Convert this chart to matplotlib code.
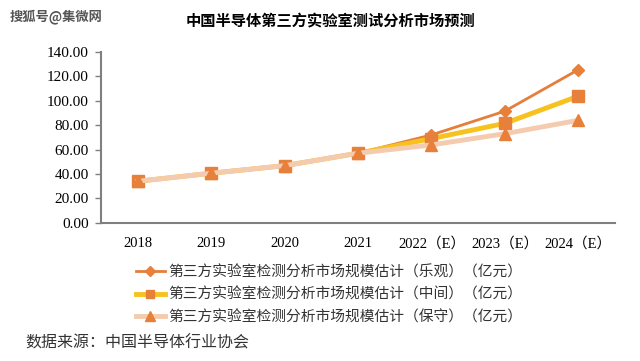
import matplotlib
matplotlib.use("Agg")
import matplotlib.pyplot as plt

plt.rcParams['font.family'] = ['Liberation Serif', 'Noto Sans CJK SC', 'DejaVu Sans']

categories = ["2018", "2019", "2020", "2021", "2022（E）", "2023（E）", "2024（E）"]
optimistic = [34.0, 40.6, 46.8, 57.0, 72.0, 91.5, 125.5]
middle = [34.0, 40.6, 46.8, 57.0, 69.0, 81.5, 103.8]
conservative = [34.0, 40.6, 46.8, 57.0, 63.8, 73.0, 84.0]
labels = [
    "第三方实验室检测分析市场规模估计（乐观）（亿元）",
    "第三方实验室检测分析市场规模估计（中间）（亿元）",
    "第三方实验室检测分析市场规模估计（保守）（亿元）",
]
yticks = [0, 20, 40, 60, 80, 100, 120, 140]

serif = ['Liberation Serif', 'Noto Sans CJK SC']

fig = plt.figure(figsize=(6.4, 3.61), dpi=100)
ax = fig.add_axes([0.158, 0.383, 0.803, 0.473])

x = list(range(len(categories)))
mk = '#E6803A'
l1, = ax.plot(x, optimistic, color='#E57E3A', lw=2.0, marker='D', ms=6.5,
              mfc=mk, mec=mk, label=labels[0], zorder=3)
l2, = ax.plot(x, middle, color='#F7C21E', lw=3.5, marker='s', ms=8.5,
              mfc=mk, mec=mk, label=labels[1], zorder=4)
l3, = ax.plot(x, conservative, color='#F4CBAE', lw=3.5, marker='^', ms=9,
              mfc=mk, mec=mk, label=labels[2], zorder=5)

ax.set_xlim(-0.5, len(categories) - 0.5)
ax.set_ylim(0, 140)
ax.set_yticks(yticks)
ax.set_yticklabels([f"{v:.2f}" for v in yticks], fontsize=11, fontfamily='Liberation Serif')
ax.set_xticks(x)
ax.set_xticklabels(categories, fontsize=10.5, family=serif)
ax.tick_params(axis='x', length=0, pad=10)
ax.tick_params(axis='y', length=4, width=1, color='#7F7F7F', pad=5)
for s in ['top', 'right']:
    ax.spines[s].set_visible(False)
for s in ['left', 'bottom']:
    ax.spines[s].set_color('#7F7F7F')
    ax.spines[s].set_linewidth(1.5)

fig.text(0.516, 0.94, "中国半导体第三方实验室测试分析市场预测", ha='center', va='center',
         fontsize=11, fontweight='bold', family=['Noto Sans CJK SC'])
fig.text(0.015, 0.955, "搜狐号@集微网", ha='left', va='center', fontsize=9.5,
         color='#555555', family=['Noto Sans CJK SC'], fontweight='bold')

leg = fig.legend(handles=[l1, l2, l3], loc='upper left', bbox_to_anchor=(0.212, 0.265),
                 frameon=False, handlelength=2.0, handletextpad=0.2, markerscale=0.75,
                 labelspacing=0.55, borderaxespad=0, borderpad=0,
                 prop={'family': ['Noto Sans CJK SC'], 'size': 10.6})
for t in leg.get_texts():
    t.set_color('#333333')

fig.text(0.04, 0.05, "数据来源：中国半导体行业协会", ha='left', va='center', fontsize=11.5,
         color='#333333', family=['Noto Sans CJK SC'])

fig.savefig("out.png", dpi=100)
